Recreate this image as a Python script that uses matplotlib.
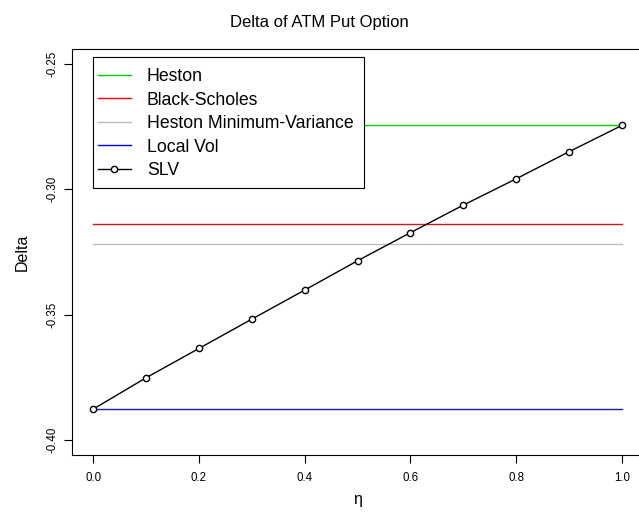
import matplotlib

matplotlib.use('Agg')

import matplotlib.pyplot as plt
from matplotlib.lines import Line2D
from matplotlib.patches import Rectangle

# data
eta = [0.0, 0.1, 0.2, 0.3, 0.4, 0.5, 0.6, 0.7, 0.8, 0.9, 1.0]
delta_slv = [-0.3877, -0.3752, -0.3635, -0.3518, -0.3402, -0.3285,
             -0.3173, -0.3063, -0.2958, -0.2850, -0.2745]
delta_heston = -0.2745
delta_bs = -0.3140
delta_heston_mv = -0.3220
delta_local_vol = -0.3877

xticks = [0.0, 0.2, 0.4, 0.6, 0.8, 1.0]
yticks = [-0.40, -0.35, -0.30, -0.25]

plt.rcParams['font.family'] = ['Liberation Sans', 'DejaVu Sans']

W, H = 639, 514
fig = plt.figure(figsize=(W / 100, H / 100), dpi=100)

# axes box in pixels (right edge runs past the figure like the reference)
left, right, top, bottom = 72, 643, 49, 455
ax = fig.add_axes([left / W, 1 - bottom / H, (right - left) / W, (bottom - top) / H])

ax.plot([0, 1], [delta_heston] * 2, color='#00cd00', lw=1)
ax.plot([0, 1], [delta_bs] * 2, color='#c81e1e', lw=1)
ax.plot([0, 1], [delta_heston_mv] * 2, color='#bebebe', lw=1)
ax.plot([0, 1], [delta_local_vol] * 2, color='#1a1ab0', lw=1)
ax.plot(eta, delta_slv, color='black', lw=1, marker='o', markersize=4.5,
        markerfacecolor='white', markeredgecolor='black', markeredgewidth=1)

ax.set_xlim(-0.04, 1.04)
ax.set_ylim(-0.406, -0.244)
ax.set_xticks(xticks)
ax.set_xticklabels(['%.1f' % v for v in xticks])
ax.set_yticks(yticks)
ax.set_yticklabels(['%.2f' % v for v in yticks], rotation=90, va='center')
ax.tick_params(direction='out', length=6, width=0.8, labelsize=8.3)
ax.tick_params(axis='x', pad=6)
ax.tick_params(axis='y', pad=4)
for s in ax.spines.values():
    s.set_linewidth(0.8)

ax.set_xlabel('η', fontsize=11.5, labelpad=6)
ax.set_ylabel('Delta', fontsize=11.5, labelpad=12)
fig.text(0.5, 1 - 22 / H, 'Delta of ATM Put Option', ha='center', va='center', fontsize=12)

# legend box drawn by hand (R style: small side padding, taller top/bottom)
box = Rectangle((93 / W, 1 - 188 / H), (364 - 93) / W, (188 - 57) / H,
                transform=fig.transFigure, facecolor='white', edgecolor='black',
                lw=0.8, zorder=4)
fig.patches.append(box)

handles = [
    Line2D([], [], color='#00cd00', lw=1),
    Line2D([], [], color='red', lw=1),
    Line2D([], [], color='#bebebe', lw=1),
    Line2D([], [], color='blue', lw=1),
    Line2D([], [], color='black', lw=1, marker='o', markersize=4.5,
           markerfacecolor='white', markeredgecolor='black'),
]
labels = ['Heston', 'Black-Scholes', 'Heston Minimum-Variance', 'Local Vol', 'SLV']
leg = fig.legend(handles, labels, loc='upper left',
                 bbox_to_anchor=(98 / W, 1 - 68 / H), bbox_transform=fig.transFigure,
                 fontsize=12.7, frameon=False, borderaxespad=0, borderpad=0,
                 handlelength=1.87, handletextpad=0.9, labelspacing=0.37)
leg.set_zorder(5)

fig.savefig('out.png', dpi=100)
